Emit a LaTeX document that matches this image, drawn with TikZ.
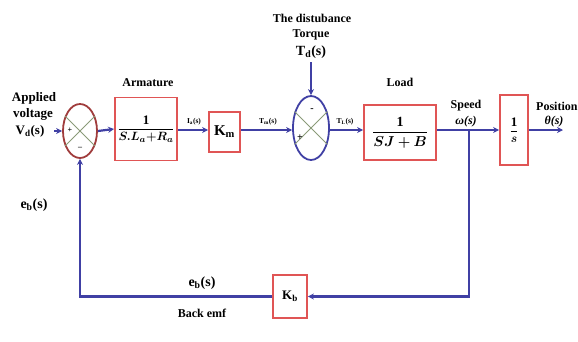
\documentclass[tikz,border=0pt]{standalone}
\usepackage{amsmath,bm}
\usepackage{fontspec}
\setmainfont{Liberation Serif}
\usetikzlibrary{shapes.geometric,arrows.meta}
\definecolor{wire}{HTML}{4040A4}
\definecolor{boxred}{HTML}{E05555}
\definecolor{sumred}{HTML}{A03C3C}
\definecolor{cross}{HTML}{8A9A78}
\tikzset{
  wireline/.style={draw=wire,line width=2.2pt},
  arr/.style={wireline,-{Stealth[length=6pt,width=6pt]}},
  blk/.style={draw=boxred,line width=1.8pt,rectangle,inner sep=0pt,font=\bfseries},
  sumnode/.style={ellipse,line width=1.8pt,inner sep=0pt},
  lbl/.style={font=\bfseries\fontsize{12}{13}\selectfont,inner sep=0pt},
  small/.style={font=\bfseries\fontsize{7.5}{8}\selectfont,inner sep=0pt},
}
\begin{document}
\begin{tikzpicture}[x=1pt,y=-1pt]
\useasboundingbox (0,0) rectangle (578,341);
% blocks
\node[sumnode,draw=sumred,minimum width=34pt,minimum height=54pt] (s1) at (80,131) {};
\node[blk,minimum width=62pt,minimum height=63pt] (arm) at (146,129) {\fontsize{13}{14}\selectfont$\dfrac{\mathbf{1}}{\bm{S.L_{a}{+}R_{a}}}$};
\node[blk,minimum width=31pt,minimum height=40pt] (km) at (224.5,132) {\fontsize{15}{16}\selectfont K$_{\mathbf m}$};
\node[sumnode,draw=wire,minimum width=36pt,minimum height=64pt] (s2) at (311,128) {};
\node[blk,minimum width=72pt,minimum height=55pt] (load) at (400,132.5) {\fontsize{14}{15}\selectfont$\dfrac{\mathbf{1}}{\bm{SJ+B}}$};
\node[blk,minimum width=28pt,minimum height=70pt] (int) at (514,130) {\fontsize{13}{14}\selectfont$\dfrac{\mathbf{1}}{\bm{s}}$};
\node[blk,minimum width=34pt,minimum height=43pt] (kb) at (290,296.5) {\fontsize{13}{14}\selectfont K$_{\mathbf b}$};
% crosses
\draw[cross,line width=1pt] (s1.45) -- (s1.225) (s1.135) -- (s1.315);
\draw[cross,line width=1pt] (s2.45) -- (s2.225) (s2.135) -- (s2.315);
% signs
\node[small,font=\bfseries\fontsize{8}{8}\selectfont] (p1) at (70,130) {+};
\node[small,font=\bfseries\fontsize{8}{8}\selectfont] (m1) at (80,148) {--};
\node[small,font=\bfseries\fontsize{10}{10}\selectfont] (m2) at (312,110) {-};
\node[small,font=\bfseries\fontsize{10}{10}\selectfont] (p2) at (300,138) {+};
% coordinates
\coordinate (vin) at (54,131);
\coordinate (td) at (311,62);
\coordinate (br) at (469,130);
\coordinate (out) at (563,130);
\coordinate (brd) at (469,296.5);
\coordinate (fbl) at (80,296.5);
% connectors
\draw[arr] (vin) -- (s1.west);
\draw[arr] (s1.east) -- (arm.west);
\draw[arr] (arm.east |- 130,130) -- (km.west |- 130,130);
\draw[arr] (km.east |- 130,130) -- (s2.west |- 130,130);
\draw[arr] (td) -- (s2.north);
\draw[arr] (s2.east |- 130,130) -- (load.west |- 130,130);
\draw[arr] (load.east |- 130,130) -- (int.west |- 130,130);
\draw[arr] (int.east) -- (out);
\draw[arr] (br) -- (brd) -- (kb.east);
\draw[arr] (kb.west) -- (fbl) -- (s1.south);
% labels
\node[lbl,font=\bfseries\fontsize{13}{14}\selectfont] (t1) at (34,98) {Applied};
\node[lbl,font=\bfseries\fontsize{13}{14}\selectfont] (t2) at (33,114) {voltage};
\node[lbl,font=\bfseries\fontsize{13}{14}\selectfont] (t3) at (30,131) {V$_{\mathbf d}$(s)};
\node[lbl] (t4) at (148,83) {Armature};
\node[small] (t5) at (194,122) {I$_{\mathbf a}$(s)};
\node[small] (t6) at (268,122) {T$_{\mathbf m}$(s)};
\node[small] (t7) at (345,122) {T$_{\mathbf L}$(s)};
\node[lbl] (t8) at (312,18) {The distubance};
\node[lbl] (t9) at (311,35) {Torque};
\node[lbl,font=\bfseries\fontsize{14}{15}\selectfont] (t10) at (311,52) {T$_{\mathbf d}$(s)};
\node[lbl] (t11) at (400,82) {Load};
\node[lbl] (t12) at (466,106) {Speed};
\node[lbl,font=\bfseries\itshape\fontsize{12}{13}\selectfont] (t13) at (466,122) {ω(s)};
\node[lbl,anchor=west] (t14) at (536,106) {Position};
\node[lbl,font=\bfseries\itshape\fontsize{12}{13}\selectfont] (t15) at (554,122) {θ(s)};
\node[lbl,font=\bfseries\fontsize{14}{15}\selectfont] (t16) at (34,205) {e$_{\mathbf b}$(s)};
\node[lbl,font=\bfseries\fontsize{14}{15}\selectfont] (t17) at (202,283) {e$_{\mathbf b}$(s)};
\node[lbl] (t18) at (202,313) {Back emf};
\end{tikzpicture}
\end{document}
